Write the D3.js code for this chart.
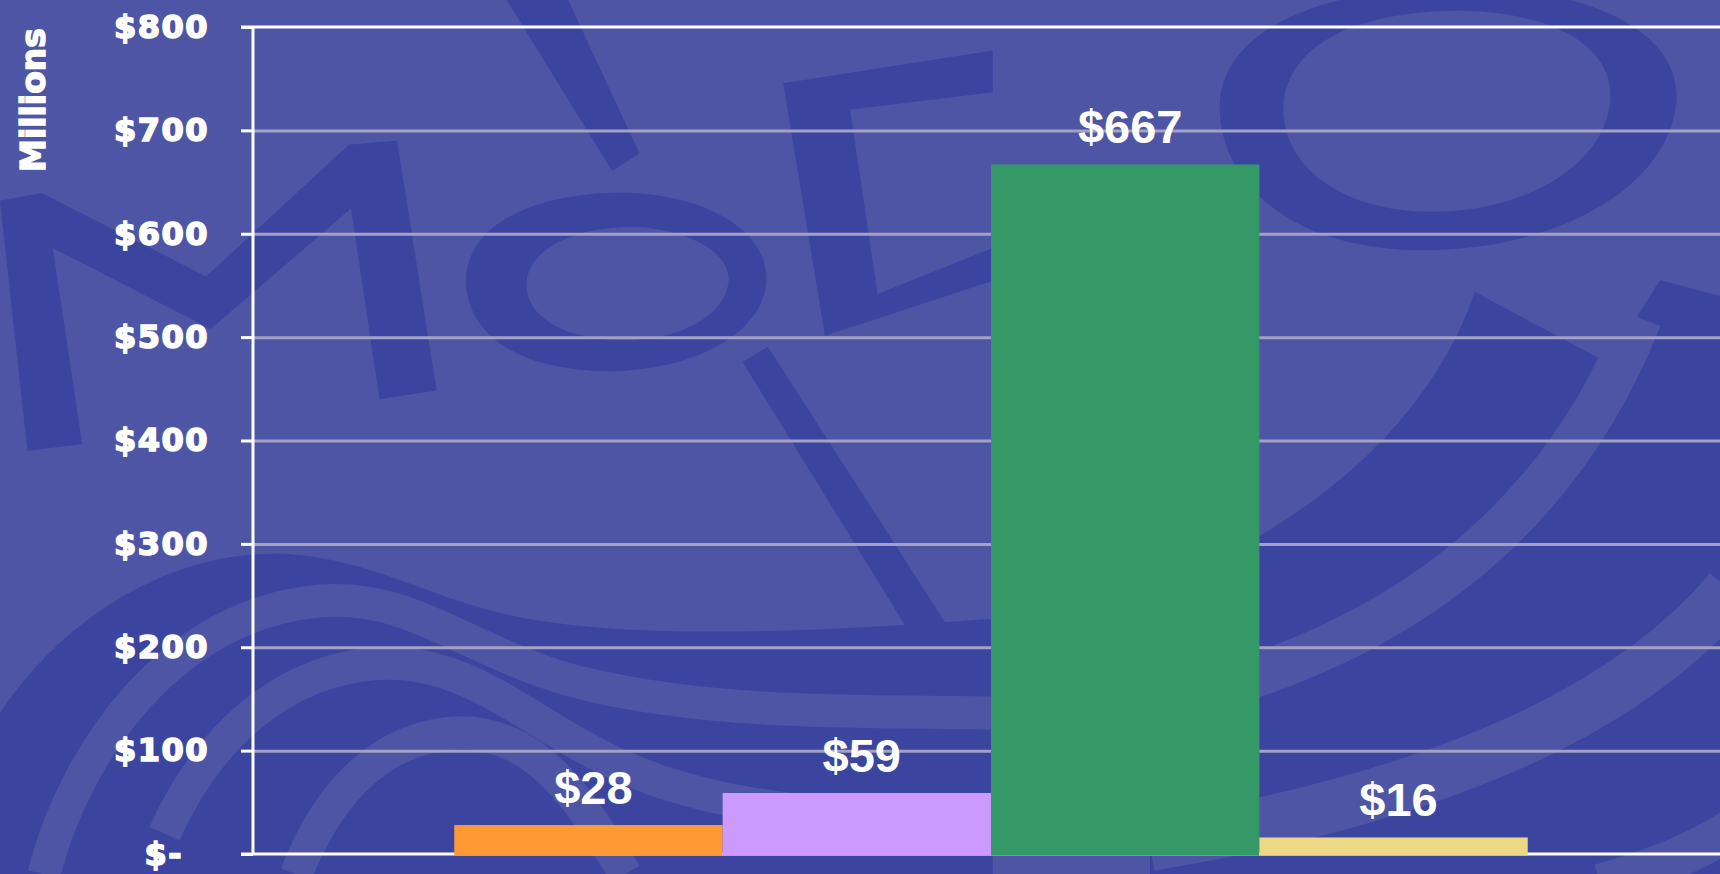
<!DOCTYPE html>
<html>
<head>
<meta charset="utf-8">
<script src="https://cdn.jsdelivr.net/npm/d3@7"></script>
<style>
  html, body { margin: 0; padding: 0; overflow: hidden; background: #4E55A5; }
  svg { display: block; }
</style>
</head>
<body>
<svg id="chart"></svg>
<script>
const width = 1720
const height = 874

// Data
const categories = ["Total"]
const seriesNames = ["Series 1", "Series 2", "Series 3", "Series 4"]
const seriesValues = [28, 59, 667, 16]
const seriesColors = ["#FF9933", "#CC99FF", "#359967", "#EDD886"]
const yTicks = [0, 100, 200, 300, 400, 500, 600, 700, 800]
const yAxisTitle = "Millions"

// Colours
const backgroundColor = "#4E55A5"
const watermarkColor = "#3B459F"
const gridColor = "#A3A1C6"
const axisColor = "#FFFFFF"

// Plot area
const plotLeft = 253
const plotRight = 1729
const plotTop = 27
const plotBottom = 854
const gapWidth = 1.5   // excel style gap, in bar widths

const svg = d3.select("#chart")
    .attr("width", width)
    .attr("height", height)

svg.append("rect")
    .attr("width", width)
    .attr("height", height)
    .attr("fill", backgroundColor)

// Watermark logo (decoration only), drawn in the shrunk frame and scaled up
const wm = svg.append("g")
    .attr("fill", watermarkColor)
    .attr("transform", `scale(${1720 / 1568})`)

// M
wm.append("path")
    .attr("d", "M0,183 L38,176 L188,252 L318,132 L362,128 L398,356 L346,364 L320,190 L192,300 L48,226 L75,405 L25,411 Z")
// o
wm.append("path")
    .attr("fill-rule", "evenodd")
    .attr("d", "M425,262 C420,200 500,172 580,176 C660,182 705,220 698,262 C690,310 620,342 540,338 C470,334 430,305 425,262 Z " +
               "M480,262 C478,225 530,205 582,207 C630,210 668,232 664,258 C660,290 615,312 562,310 C515,308 482,290 480,262 Z")
// D
wm.append("path")
    .attr("fill-rule", "evenodd")
    .attr("d", "M714,76 L905,46 L905,256 L752,306 Z M775,100 L905,84 L905,226 L800,268 Z")
// O
wm.append("path")
    .attr("fill-rule", "evenodd")
    .attr("d", "M1112,100 C1110,30 1200,-10 1320,-12 C1450,-14 1535,30 1528,95 C1520,170 1420,230 1290,228 C1180,226 1114,170 1112,100 Z " +
               "M1170,100 C1170,45 1230,12 1320,10 C1410,8 1472,40 1468,92 C1463,150 1390,195 1300,193 C1220,191 1170,150 1170,100 Z")
// strokes
wm.append("path").attr("d", "M462,0 L518,0 L583,140 L558,156 Z")
wm.append("path").attr("d", "M677,330 L700,316 L862,568 L830,578 Z")

// lower left swoosh
wm.append("path")
    .attr("d", "M0,650 C60,560 160,500 262,505 C340,510 390,545 470,562 C570,582 720,578 905,564 L905,797 L0,797 Z")
const lightBands = wm.append("g")
    .attr("fill", "none")
    .attr("stroke", backgroundColor)
lightBands.append("path").attr("stroke-width", 30)
    .attr("d", "M40,797 C70,680 160,560 290,548 C380,540 430,600 540,625 C660,652 790,648 905,650")
lightBands.append("path").attr("stroke-width", 30)
    .attr("d", "M150,760 C190,670 260,610 345,605 C430,600 480,660 570,700 C660,740 790,748 905,745")
lightBands.append("path").attr("stroke-width", 30)
    .attr("d", "M270,797 C300,720 350,670 420,668 C490,668 530,730 570,797")
lightBands.append("path").attr("stroke-width", 26)
    .attr("d", "M0,560 C30,520 60,500 100,495")

// right rings (full coordinates)
const wmRight = svg.append("g")
wmRight.append("path")
    .attr("fill", watermarkColor)
    .attr("d", "M1475,292 L1608,363 L1660,280 L1720,296 L1720,874 L1150,874 L1150,590 C1320,520 1430,420 1475,292 Z")
wmRight.append("path")
    .attr("fill", "none")
    .attr("stroke", backgroundColor)
    .attr("stroke-width", 44)
    .attr("d", "M1640,318 C1560,520 1400,650 1150,705")
wmRight.append("path")
    .attr("fill", "none")
    .attr("stroke", backgroundColor)
    .attr("stroke-width", 52)
    .attr("d", "M1730,590 C1620,720 1420,800 1150,845")
wmRight.append("path")
    .attr("fill", "none")
    .attr("stroke", backgroundColor)
    .attr("stroke-width", 40)
    .attr("d", "M1730,830 C1690,855 1650,870 1600,884")

// Scales
const y = d3.scaleLinear()
    .domain([0, 800])
    .range([plotBottom, plotTop])

const x0 = d3.scaleBand()
    .domain(categories)
    .range([plotLeft, plotRight])

const barWidth = x0.bandwidth() / (seriesNames.length + gapWidth)
const x1 = d3.scaleBand()
    .domain(seriesNames)
    .range([barWidth * gapWidth / 2, x0.bandwidth() - barWidth * gapWidth / 2])
    .padding(0)

// Gridlines
svg.append("g")
    .attr("class", "grid")
    .attr("transform", `translate(${plotLeft},0)`)
    .call(d3.axisLeft(y).tickValues(yTicks.slice(1, -1)).tickSize(-(plotRight - plotLeft)).tickFormat(""))
    .call(g => g.select(".domain").remove())
    .call(g => g.selectAll("line").attr("stroke", gridColor).attr("stroke-width", 3))

// top border of plot area
svg.append("line")
    .attr("x1", plotLeft - 12).attr("x2", plotRight)
    .attr("y1", y(800)).attr("y2", y(800))
    .attr("stroke", axisColor)
    .attr("stroke-width", 3)

// X axis line (zero)
svg.append("line")
    .attr("x1", plotLeft - 12).attr("x2", plotRight)
    .attr("y1", y(0)).attr("y2", y(0))
    .attr("stroke", axisColor)
    .attr("stroke-width", 3)

// Bars
const bars = svg.append("g")
    .selectAll("g")
    .data(categories)
    .join("g")
    .attr("transform", d => `translate(${x0(d)},0)`)

const barData = seriesNames.map((name, i) => ({ name, value: seriesValues[i], color: seriesColors[i] }))

bars.selectAll("rect")
    .data(barData)
    .join("rect")
    .attr("x", d => x1(d.name))
    .attr("y", d => y(d.value))
    .attr("width", x1.bandwidth())
    .attr("height", d => y(0) - y(d.value) + 1.5)
    .attr("fill", d => d.color)

bars.selectAll("text")
    .data(barData)
    .join("text")
    .attr("x", d => x1(d.name) + x1.bandwidth() / 2 + 5)
    .attr("y", d => y(d.value) - 21)
    .attr("text-anchor", "middle")
    .attr("fill", "#FFFFFF")
    .attr("font-family", "'Liberation Sans', Arial, sans-serif")
    .attr("font-weight", "bold")
    .attr("font-size", 47)
    .text(d => "$" + d.value)

// Y axis
const yAxis = svg.append("g")
    .attr("transform", `translate(${plotLeft},0)`)
    .call(d3.axisLeft(y)
        .tickValues(yTicks)
        .tickSize(12)
        .tickPadding(32)
        .tickFormat(d => d === 0 ? "$-" : "$" + d))

yAxis.select(".domain")
    .attr("d", `M0,${plotTop}V${plotBottom}`)
    .attr("stroke", axisColor)
    .attr("stroke-width", 3)
yAxis.selectAll(".tick line")
    .attr("stroke", axisColor)
    .attr("stroke-width", 3)
yAxis.selectAll(".tick text")
    .attr("fill", "#FFFFFF")
    .attr("stroke", "#FFFFFF")
    .attr("stroke-width", 1.6)
    .attr("font-family", "'DejaVu Sans', Verdana, sans-serif")
    .attr("font-weight", "bold")
    .attr("font-size", 32)
    .attr("letter-spacing", 1.5)
    .attr("dx", d => d === 0 ? -26 : 0)

// Axis title
svg.append("text")
    .attr("transform", "translate(45,100) rotate(-90)")
    .attr("text-anchor", "middle")
    .attr("fill", "#FFFFFF")
    .attr("stroke", "#FFFFFF")
    .attr("stroke-width", 1.4)
    .attr("font-family", "'DejaVu Sans', Verdana, sans-serif")
    .attr("font-weight", "bold")
    .attr("font-size", 33)
    .text(yAxisTitle)
</script>
</body>
</html>
